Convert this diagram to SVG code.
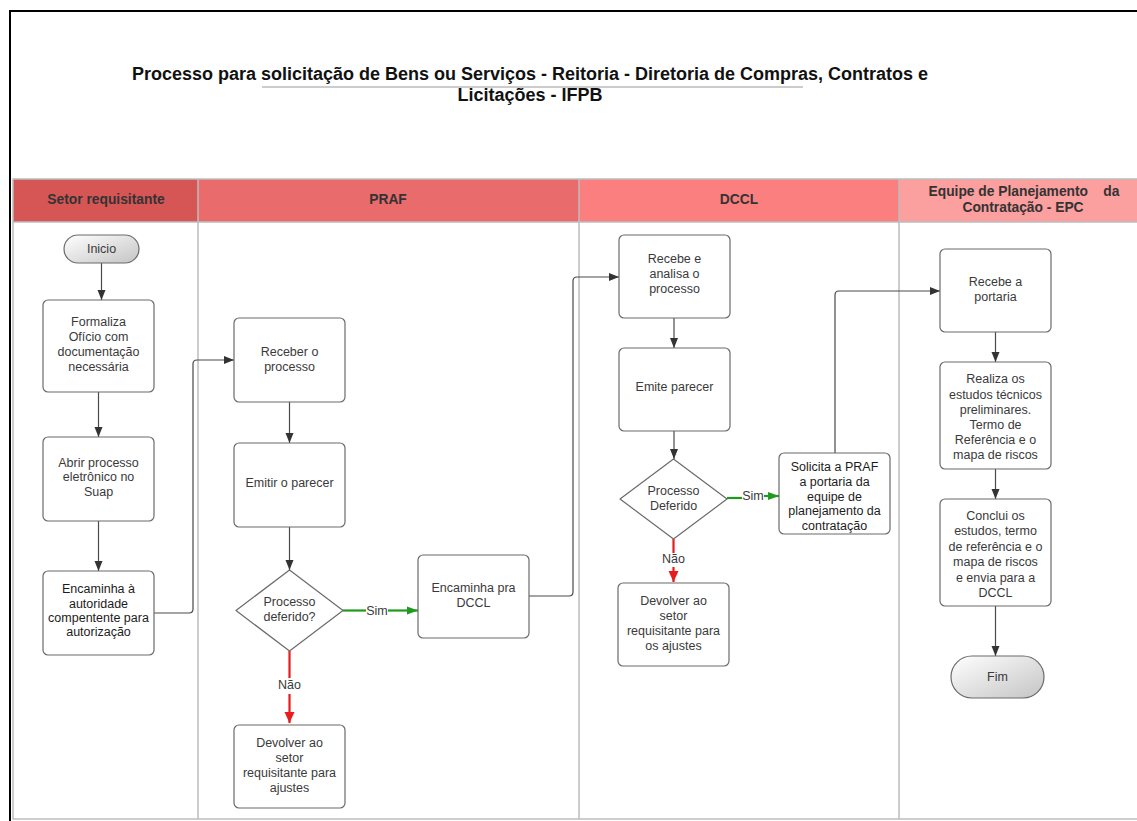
<svg xmlns="http://www.w3.org/2000/svg" width="1137" height="821" viewBox="0 0 1137 821">
  <style>
    .title { font-family: "Liberation Sans", Arial, sans-serif; font-size: 18px; font-weight: bold; fill: #111; text-anchor: middle; }
    .lanehead { font-family: "Liberation Sans", Arial, sans-serif; font-size: 13.8px; font-weight: bold; fill: #333; text-anchor: middle; }
    .box { fill: #fff; stroke: #6b6b6b; stroke-width: 1.2; }
    .term { fill: url(#termFill); stroke: #6b6b6b; stroke-width: 1.2; }
    .lbl { font-family: "Liberation Sans", Arial, sans-serif; font-size: 12.5px; fill: #3a3a3a; text-anchor: middle; }
    .dark { fill: #1c1c1c; }
    .lane { fill: none; stroke: #bdbdbd; stroke-width: 1.5; }
    .conn { fill: none; stroke: #4a4a4a; stroke-width: 1.2; }
    .yes { fill: none; stroke: #1f9a1f; stroke-width: 2.2; }
    .no { fill: none; stroke: #e81c1c; stroke-width: 2.2; }
  </style>
  <defs>
    <linearGradient id="termFill" x1="0" y1="0" x2="1" y2="1">
      <stop offset="0" stop-color="#ffffff"/>
      <stop offset="1" stop-color="#c4c4c4"/>
    </linearGradient>
    <marker id="arrDark" markerUnits="userSpaceOnUse" markerWidth="10" markerHeight="10" viewBox="0 0 10 10" refX="10" refY="5" orient="auto">
      <path d="M0,1 L10,5 L0,9 z" fill="#333"/>
    </marker>
    <marker id="arrGreen" markerUnits="userSpaceOnUse" markerWidth="11" markerHeight="10" viewBox="0 0 11 10" refX="11" refY="5" orient="auto">
      <path d="M0,1 L11,5 L0,9 z" fill="#1f9a1f"/>
    </marker>
    <marker id="arrRed" markerUnits="userSpaceOnUse" markerWidth="11" markerHeight="11" viewBox="0 0 11 11" refX="11" refY="5.5" orient="auto">
      <path d="M0,0.5 L11,5.5 L0,10.5 z" fill="#e81c1c"/>
    </marker>
  </defs>

  <rect x="0" y="0" width="1137" height="821" fill="#fff"/>
  <!-- page frame -->
  <rect x="10" y="11" width="1140" height="820" fill="none" stroke="#000" stroke-width="2"/>

  <!-- title -->
  <g id="title">
    <text class="title" x="530" y="80">Processo para solicitação de Bens ou Serviços - Reitoria - Diretoria de Compras, Contratos e</text>
    <line x1="262" y1="87" x2="803" y2="87" stroke="#9a9a9a" stroke-width="1.2"/>
    <text class="title" x="530" y="101">Licitações - IFPB</text>
  </g>

  <!-- swimlanes -->
  <g id="lanes">
    <rect x="13" y="179" width="185" height="43" fill="#d65656"/>
    <rect x="198" y="179" width="381" height="43" fill="#e96b6b"/>
    <rect x="579" y="179" width="320" height="43" fill="#fc7f7f"/>
    <rect x="899" y="179" width="250" height="43" fill="#fc9f9f"/>
    <rect class="lane" x="13" y="179" width="1140" height="640"/>
    <line class="lane" x1="13" y1="222" x2="1150" y2="222"/>
    <line class="lane" x1="198" y1="179" x2="198" y2="819"/>
    <line class="lane" x1="579" y1="179" x2="579" y2="819"/>
    <line class="lane" x1="899" y1="179" x2="899" y2="819"/>
    <text class="lanehead" x="106" y="204">Setor requisitante</text>
    <text class="lanehead" x="388" y="204">PRAF</text>
    <text class="lanehead" x="739" y="204">DCCL</text>
    <text class="lanehead" x="1024" y="196" xml:space="preserve">Equipe de Planejamento    da</text>
    <text class="lanehead" x="1023" y="212">Contratação - EPC</text>
  </g>

  <!-- connectors -->
  <g id="connectors">
    <path class="conn" d="M101.5,263 V300" marker-end="url(#arrDark)"/>
    <path class="conn" d="M98.5,392 V437" marker-end="url(#arrDark)"/>
    <path class="conn" d="M98.5,521 V571" marker-end="url(#arrDark)"/>
    <path class="conn" d="M154,613 H189 Q193,613 193,609 V364 Q193,360 197,360 H234" marker-end="url(#arrDark)"/>
    <path class="conn" d="M289.5,402 V443" marker-end="url(#arrDark)"/>
    <path class="conn" d="M289.5,527 V570" marker-end="url(#arrDark)"/>
    <path class="yes" d="M343,610.5 H366"/>
    <path class="yes" d="M388,610.5 H418" marker-end="url(#arrGreen)"/>
    <text class="lbl" x="377" y="614.5">Sim</text>
    <path class="no" d="M289.5,651 V678"/>
    <path class="no" d="M289.5,694 V723" marker-end="url(#arrRed)"/>
    <text class="lbl" x="289.5" y="688.5">Não</text>
    <path class="conn" d="M529,596 H569 Q573,596 573,592 V281 Q573,277 577,277 H619" marker-end="url(#arrDark)"/>
    <path class="conn" d="M674,318 V348" marker-end="url(#arrDark)"/>
    <path class="conn" d="M674,431 V459" marker-end="url(#arrDark)"/>
    <path class="yes" d="M727,498 H742"/>
    <path class="yes" d="M764,496 H779" marker-end="url(#arrGreen)"/>
    <text class="lbl" x="753" y="500">Sim</text>
    <path class="no" d="M673.5,539 V553"/>
    <path class="no" d="M673.5,567 V582" marker-end="url(#arrRed)"/>
    <text class="lbl" x="673.5" y="563">Não</text>
    <path class="conn" d="M835,453 V295 Q835,291 839,291 H940" marker-end="url(#arrDark)"/>
    <path class="conn" d="M995.5,332 V362" marker-end="url(#arrDark)"/>
    <path class="conn" d="M995.5,469 V499" marker-end="url(#arrDark)"/>
    <path class="conn" d="M995.5,606 V656" marker-end="url(#arrDark)"/>
  </g>

  <!-- Setor requisitante -->
  <g id="inicio">
    <rect class="term" x="64" y="235" width="75" height="28" rx="14"/>
    <text class="lbl" x="101.5" y="253">Inicio</text>
  </g>
  <g id="formaliza">
    <rect class="box" x="43" y="300" width="111" height="92" rx="5"/>
    <text class="lbl" x="98.5" y="326">Formaliza</text>
    <text class="lbl" x="98.5" y="341">Ofício com</text>
    <text class="lbl" x="98.5" y="356">documentação</text>
    <text class="lbl" x="98.5" y="371">necessária</text>
  </g>
  <g id="abrir">
    <rect class="box" x="43" y="437" width="111" height="84" rx="5"/>
    <text class="lbl" x="98.5" y="467">Abrir processo</text>
    <text class="lbl" x="98.5" y="481">eletrônico no</text>
    <text class="lbl" x="98.5" y="496">Suap</text>
  </g>
  <g id="encaminha-autoridade">
    <rect class="box" x="43" y="571" width="111" height="84" rx="5"/>
    <text class="lbl dark" x="98.5" y="593">Encaminha à</text>
    <text class="lbl dark" x="98.5" y="608">autoridade</text>
    <text class="lbl dark" x="98.5" y="622">compentente para</text>
    <text class="lbl dark" x="98.5" y="636">autorização</text>
  </g>

  <!-- PRAF -->
  <g id="receber">
    <rect class="box" x="234" y="318" width="111" height="84" rx="5"/>
    <text class="lbl" x="289.5" y="356">Receber o</text>
    <text class="lbl" x="289.5" y="371">processo</text>
  </g>
  <g id="emitir">
    <rect class="box" x="234" y="443" width="111" height="84" rx="5"/>
    <text class="lbl" x="289.5" y="487">Emitir o parecer</text>
  </g>
  <g id="deferido-praf">
    <path class="box" d="M289.5,570 L343,610.5 L289.5,651 L236,610.5 Z" stroke-linejoin="round"/>
    <text class="lbl" x="289.5" y="606">Processo</text>
    <text class="lbl" x="289.5" y="621">deferido?</text>
  </g>
  <g id="devolver-praf">
    <rect class="box" x="234" y="725" width="111" height="83" rx="5"/>
    <text class="lbl" x="289.5" y="747">Devolver ao</text>
    <text class="lbl" x="289.5" y="762">setor</text>
    <text class="lbl" x="289.5" y="777">requisitante para</text>
    <text class="lbl" x="289.5" y="792">ajustes</text>
  </g>
  <g id="encaminha-dccl">
    <rect class="box" x="418" y="555" width="111" height="83" rx="5"/>
    <text class="lbl" x="473.5" y="592">Encaminha pra</text>
    <text class="lbl" x="473.5" y="607">DCCL</text>
  </g>

  <!-- DCCL -->
  <g id="recebe-analisa">
    <rect class="box" x="619" y="235" width="111" height="83" rx="5"/>
    <text class="lbl" x="674.5" y="263">Recebe e</text>
    <text class="lbl" x="674.5" y="278">analisa o</text>
    <text class="lbl" x="674.5" y="293">processo</text>
  </g>
  <g id="emite-parecer">
    <rect class="box" x="619" y="348" width="111" height="83" rx="5"/>
    <text class="lbl" x="674.5" y="391">Emite parecer</text>
  </g>
  <g id="deferido-dccl">
    <path class="box" d="M673.5,459 L727,499 L673.5,539 L620,499 Z" stroke-linejoin="round"/>
    <text class="lbl" x="673.5" y="495">Processo</text>
    <text class="lbl" x="673.5" y="510">Deferido</text>
  </g>
  <g id="devolver-dccl">
    <rect class="box" x="618" y="583" width="111" height="83" rx="5"/>
    <text class="lbl" x="673.5" y="605">Devolver ao</text>
    <text class="lbl" x="673.5" y="620">setor</text>
    <text class="lbl" x="673.5" y="635">requisitante para</text>
    <text class="lbl" x="673.5" y="650">os ajustes</text>
  </g>
  <g id="solicita">
    <rect class="box" x="779" y="453" width="111" height="81" rx="5"/>
    <text class="lbl dark" x="834.5" y="471">Solicita a PRAF</text>
    <text class="lbl dark" x="834.5" y="486">a portaria da</text>
    <text class="lbl dark" x="834.5" y="501">equipe de</text>
    <text class="lbl dark" x="834.5" y="515">planejamento da</text>
    <text class="lbl dark" x="834.5" y="530">contratação</text>
  </g>

  <!-- EPC -->
  <g id="recebe-portaria">
    <rect class="box" x="940" y="249" width="111" height="83" rx="5"/>
    <text class="lbl" x="995.5" y="286">Recebe a</text>
    <text class="lbl" x="995.5" y="301">portaria</text>
  </g>
  <g id="realiza">
    <rect class="box" x="940" y="362" width="111" height="107" rx="5"/>
    <text class="lbl" x="995.5" y="383">Realiza os</text>
    <text class="lbl" x="995.5" y="399">estudos técnicos</text>
    <text class="lbl" x="995.5" y="414">preliminares.</text>
    <text class="lbl" x="995.5" y="429">Termo de</text>
    <text class="lbl" x="995.5" y="444">Referência e o</text>
    <text class="lbl" x="995.5" y="459">mapa de riscos</text>
  </g>
  <g id="conclui">
    <rect class="box" x="940" y="499" width="111" height="107" rx="5"/>
    <text class="lbl" x="995.5" y="520">Conclui os</text>
    <text class="lbl" x="995.5" y="535">estudos, termo</text>
    <text class="lbl" x="995.5" y="551">de referência e o</text>
    <text class="lbl" x="995.5" y="566">mapa de riscos</text>
    <text class="lbl" x="995.5" y="582">e envia para a</text>
    <text class="lbl" x="995.5" y="597">DCCL</text>
  </g>
  <g id="fim">
    <rect class="term" x="951" y="656" width="93" height="42" rx="21"/>
    <text class="lbl" x="997.5" y="681">Fim</text>
  </g>
</svg>
